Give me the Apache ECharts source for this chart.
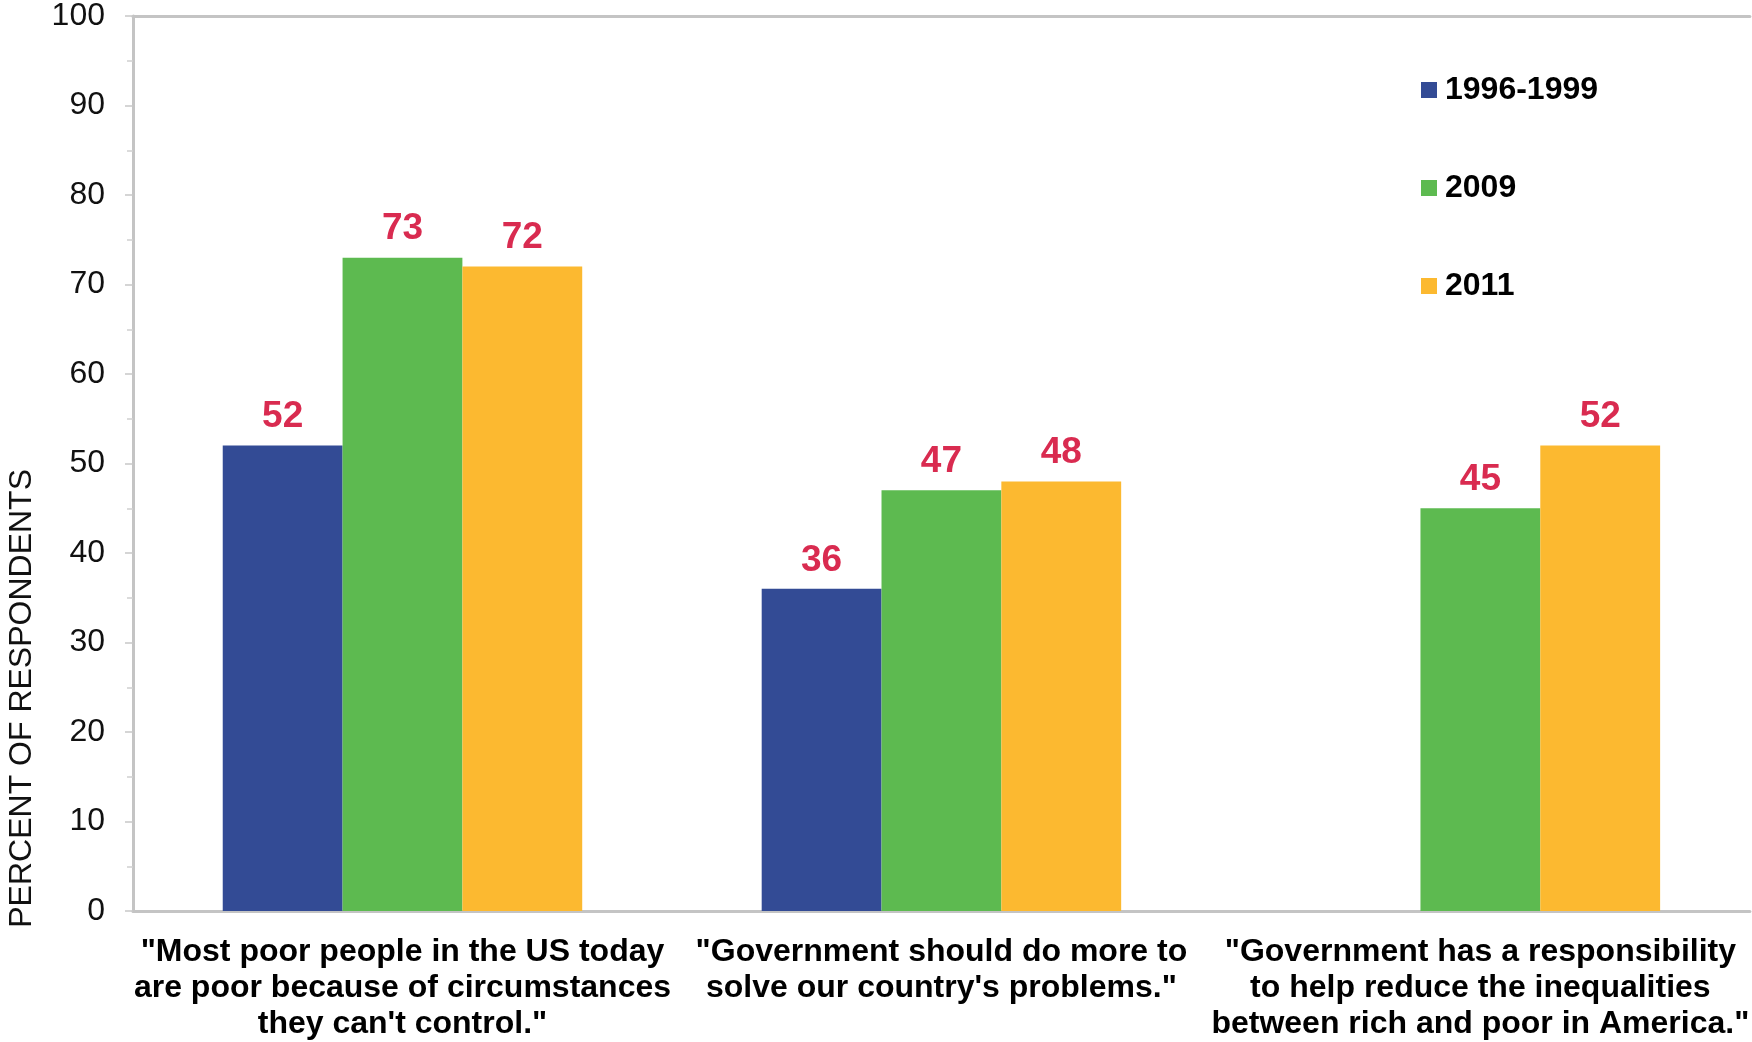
<!DOCTYPE html>
<html>
<head>
<meta charset="utf-8">
<script src="https://cdn.jsdelivr.net/npm/echarts@6/dist/echarts.min.js"></script>
<style>
  html, body { margin: 0; padding: 0; background: #fff; }
  #chart { width: 1752px; height: 1042px; }
</style>
</head>
<body>
<div id="chart"></div>
<script>
// Survey statements (x categories)
const categories = [
  '"Most poor people in the US today\nare poor because of circumstances\nthey can\'t control."',
  '"Government should do more to\nsolve our country\'s problems."',
  '"Government has a responsibility\nto help reduce the inequalities\nbetween rich and poor in America."'
];

// Share of respondents agreeing, by survey period
const seriesNames = ['1996-1999', '2009', '2011'];
const values1996 = [52, 36, null];
const values2009 = [73, 47, 45];
const values2011 = [72, 48, 52];

const yTicks = [0, 10, 20, 30, 40, 50, 60, 70, 80, 90, 100];

const colors = ['#334B95', '#5DBA50', '#FCB930'];
const narrowBold = '"Liberation Sans Narrow", "Arial Narrow", "Liberation Sans", Arial, sans-serif';
const sans = '"Liberation Sans", Arial, Helvetica, sans-serif';

const chart = echarts.init(document.getElementById('chart'), null, { renderer: 'canvas' });

const labelStyle = {
  show: true,
  position: 'top',
  distance: 10,
  color: '#D92B50',
  fontFamily: sans,
  fontWeight: 'bold',
  fontSize: 37
};

function makeSeries(name, data, idx) {
  return {
    name: name,
    type: 'bar',
    data: data,
    barGap: '0%',
    barCategoryGap: '33.3%',
    itemStyle: { color: colors[idx] },
    label: labelStyle,
    emphasis: { disabled: true }
  };
}

chart.setOption({
  animation: false,
  grid: { left: 133, right: 0, top: 15, bottom: 130, containLabel: false },
  legend: {
    orient: 'vertical',
    left: 1416,
    top: 69,
    icon: 'rect',
    itemWidth: 16,
    itemHeight: 16,
    itemGap: 66,
    data: seriesNames,
    textStyle: {
      fontFamily: narrowBold,
      fontWeight: 'bold',
      fontSize: 32,
      lineHeight: 32,
      color: '#000',
      padding: [0, 0, 0, 3]
    }
  },
  xAxis: [
    {
      type: 'category',
      data: categories,
      axisLine: { show: true, lineStyle: { color: '#C4C4C4', width: 3 } },
      axisTick: { show: false },
      axisLabel: {
        interval: 0,
        margin: 23,
        fontFamily: narrowBold,
        fontWeight: 'bold',
        fontSize: 32,
        lineHeight: 36,
        color: '#000',
        align: 'center'
      }
    },
    {
      type: 'category',
      position: 'top',
      data: categories,
      axisLine: { show: true, onZero: false, lineStyle: { color: '#C4C4C4', width: 3 } },
      axisTick: { show: false },
      axisLabel: { show: false }
    }
  ],
  yAxis: {
    type: 'value',
    min: yTicks[0],
    max: yTicks[yTicks.length - 1],
    interval: 10,
    axisLine: { show: true, lineStyle: { color: '#C4C4C4', width: 3 } },
    axisTick: { show: true, length: 8, lineStyle: { color: '#C8C8C8', width: 1.5 } },
    minorTick: { show: true, splitNumber: 2, length: 6, lineStyle: { color: '#D0D0D0', width: 1.5 } },
    splitLine: { show: false },
    axisLabel: {
      margin: 28,
      fontFamily: sans,
      fontSize: 32,
      color: '#111'
    }
  },
  graphic: [
    {
      type: 'text',
      left: 6,
      top: 469,
      rotation: Math.PI / 2,
      style: {
        text: 'PERCENT OF RESPONDENTS',
        font: '32px "Liberation Sans", Arial, sans-serif',
        fill: '#111'
      }
    }
  ],
  series: [
    makeSeries(seriesNames[0], values1996, 0),
    makeSeries(seriesNames[1], values2009, 1),
    makeSeries(seriesNames[2], values2011, 2)
  ]
});
</script>
</body>
</html>
